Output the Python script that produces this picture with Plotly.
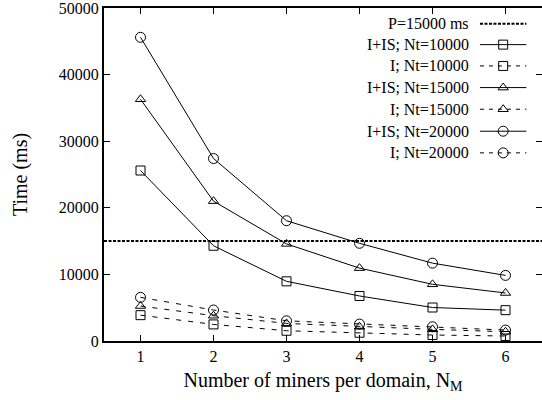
import plotly.graph_objects as go

x = [1, 2, 3, 4, 5, 6]
p_limit = 15000
iis_10000 = [25600, 14300, 8960, 6760, 5030, 4630]
i_10000 = [3880, 2490, 1540, 1240, 900, 750]
iis_15000 = [36300, 21000, 14580, 10940, 8510, 7210]
i_15000 = [5250, 3800, 2640, 2140, 1750, 1390]
iis_20000 = [45600, 27400, 18060, 14670, 11690, 9850]
i_20000 = [6550, 4650, 3030, 2540, 2140, 1640]

labels = ["P=15000 ms", "I+IS; Nt=10000", "I; Nt=10000", "I+IS; Nt=15000",
          "I; Nt=15000", "I+IS; Nt=20000", "I; Nt=20000"]

FONT = "Liberation Serif, Times New Roman, serif"
series = [
    (iis_10000, "solid", "square-open"),
    (i_10000, "5px,7px", "square-open"),
    (iis_15000, "solid", "triangle-up-open"),
    (i_15000, "5px,7px", "triangle-up-open"),
    (iis_20000, "solid", "circle-open"),
    (i_20000, "5px,7px", "circle-open"),
]

W = 544  # plot frame extends to the window's right edge
PLOT_W = W - 104

fig = go.Figure()
fig.add_trace(go.Scatter(x=[0.5, 6.5], y=[p_limit, p_limit], mode="lines",
                         line=dict(color="black", width=2, dash="3px,1.5px"),
                         showlegend=False, hoverinfo="skip"))
for ys, dash, sym in series:
    fig.add_trace(go.Scatter(x=x, y=ys, mode="lines+markers",
                             line=dict(color="black", width=1, dash=dash),
                             marker=dict(symbol=sym, size=9 if "circle" not in sym else 10,
                                         color="black", line=dict(width=1, color="black")),
                             showlegend=False))

# manual gnuplot-style legend on an overlay axis (positions in pixels -> fractions)
row_y = [0.953, 0.890, 0.826, 0.761, 0.696, 0.630, 0.565]
x0, x1, xm = [(px - 104) / PLOT_W for px in (481.7, 528.3, 505)]
xt = (472.7 - 104) / PLOT_W
styles = [("3px,1.5px", None, 2)] + [(d, s, 1) for _, d, s in series]
for ry, (dash, sym, w) in zip(row_y, styles):
    fig.add_trace(go.Scatter(x=[x0, x1], y=[ry, ry], mode="lines", xaxis="x2", yaxis="y2",
                             line=dict(color="black", width=w, dash=dash if dash != "5px,7px" else "4px,5px"),
                             showlegend=False, hoverinfo="skip"))
    if sym:
        fig.add_trace(go.Scatter(x=[xm], y=[ry], mode="markers", xaxis="x2", yaxis="y2",
                                 marker=dict(symbol=sym, size=9 if "circle" not in sym else 10,
                                             color="black", line=dict(width=1, color="black")),
                                 showlegend=False, hoverinfo="skip"))
for ry, lab in zip(row_y, labels):
    fig.add_annotation(x=xt, y=ry, xref="paper", yref="paper", text=lab,
                       showarrow=False, xanchor="right", yanchor="middle",
                       font=dict(family=FONT, size=16, color="black"))

axis_common = dict(showline=True, linecolor="black", linewidth=2, mirror="ticks",
                   ticks="inside", ticklen=6, tickwidth=1, tickcolor="black",
                   showgrid=False, zeroline=False, ticklabeloverflow="allow",
                   tickfont=dict(family=FONT, size=16, color="black"))
fig.update_layout(
    width=W, height=400,
    margin=dict(l=104, r=0, t=6, b=59),
    paper_bgcolor="white", plot_bgcolor="white",
    showlegend=False,
    font=dict(family=FONT, color="black"),
    xaxis=dict(range=[0.5, 6.5], tickvals=x, **axis_common,
               title=dict(text="Number of miners per domain, N<sub>M</sub>", standoff=9,
                          font=dict(family=FONT, size=20, color="black"))),
    yaxis=dict(range=[0, 50000], tickvals=[0, 10000, 20000, 30000, 40000, 50000],
               ticktext=["0", "10000", "20000", "30000", "40000", "50000"], **axis_common,
               title=dict(text="Time (ms)", standoff=26,
                          font=dict(family=FONT, size=20, color="black"))),
    xaxis2=dict(range=[0, 1], overlaying="x", visible=False, domain=[0, 1]),
    yaxis2=dict(range=[0, 1], overlaying="y", visible=False, domain=[0, 1]),
)
fig.write_html("out.html", config={"displayModeBar": False},
               post_script="document.body.style.margin='0';document.body.style.overflow='hidden';")
